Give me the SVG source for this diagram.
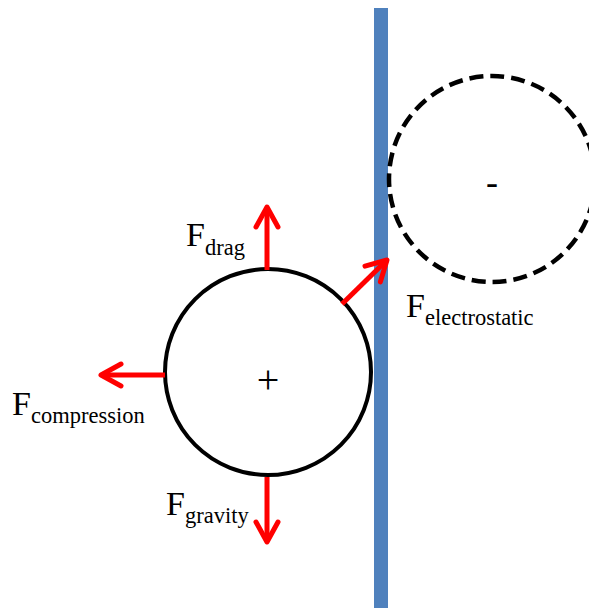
<svg xmlns="http://www.w3.org/2000/svg" width="589" height="609" viewBox="0 0 589 609">
<style>
.lbl{font-family:"Liberation Serif","Times New Roman",serif;fill:#000}
.F{font-size:34px}
.sub{font-size:22.5px}
.arrow{stroke:#FF0000;stroke-width:5;fill:none;marker-end:url(#head)}
</style>
<defs>
<marker id="head" markerUnits="userSpaceOnUse" markerWidth="40" markerHeight="40" viewBox="-30 -20 40 40" refX="0" refY="0" orient="auto" overflow="visible">
<path d="M-20,-11 L0,0 L-20,11" fill="none" stroke="#FF0000" stroke-width="5" stroke-linecap="round" stroke-linejoin="round"/>
</marker>
</defs>
<rect width="589" height="609" fill="#fff"/>
<g id="wall"><rect x="374" y="8" width="14" height="600" fill="#4F81BD"/></g>
<g id="negative-particle">
<circle cx="492" cy="179" r="103" fill="none" stroke="#000" stroke-width="4.5" stroke-dasharray="14,7"/>
<text class="lbl" x="492" y="194" font-size="36" text-anchor="middle">-</text>
</g>
<g id="positive-particle">
<circle cx="268" cy="372" r="103" fill="none" stroke="#000" stroke-width="4"/>
<text class="lbl" x="268" y="393" font-size="40" text-anchor="middle">+</text>
</g>
<g id="connectors">
<line class="arrow" x1="267" y1="270" x2="267" y2="207"/>
<line class="arrow" x1="165" y1="375" x2="101" y2="375"/>
<line class="arrow" x1="267" y1="477" x2="267" y2="542"/>
<line class="arrow" x1="342" y1="304" x2="387" y2="260"/>
</g>
<g id="label-drag"><text class="lbl F" x="186" y="246">F<tspan class="sub" dy="9">drag</tspan></text></g>
<g id="label-compression"><text class="lbl F" x="12" y="415">F<tspan class="sub" dy="8">compression</tspan></text></g>
<g id="label-gravity"><text class="lbl F" x="166" y="515">F<tspan class="sub" dy="8">gravity</tspan></text></g>
<g id="label-electrostatic"><text class="lbl F" x="406" y="317">F<tspan class="sub" dy="8">electrostatic</tspan></text></g>
</svg>
